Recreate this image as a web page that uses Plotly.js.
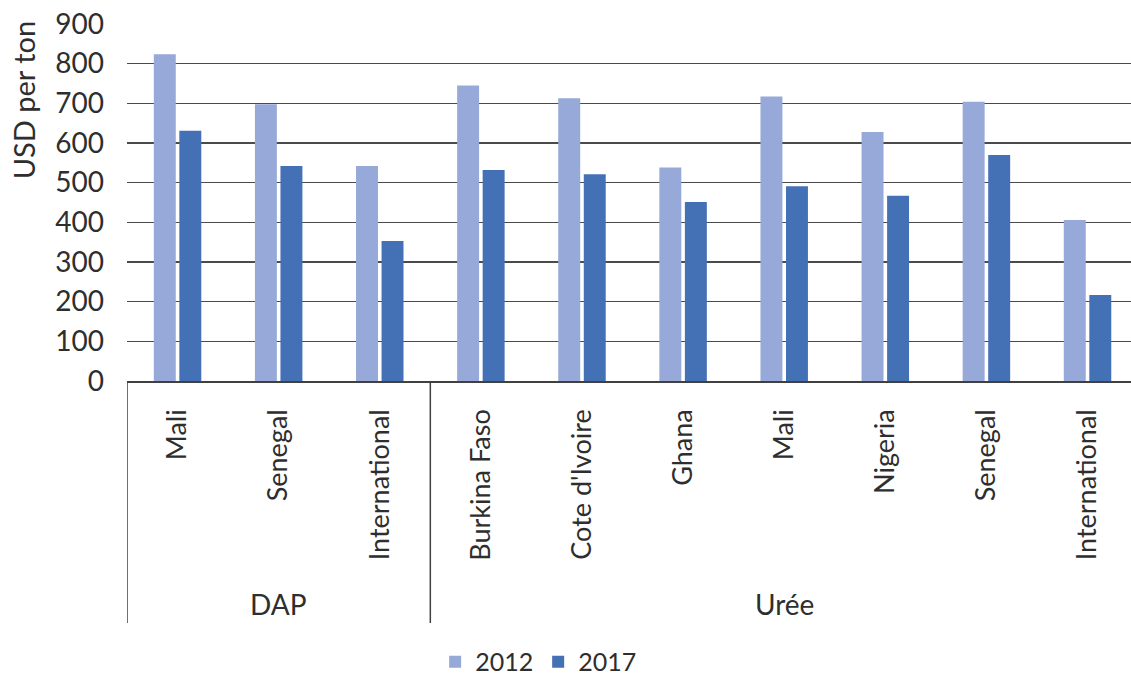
<!DOCTYPE html>
<html>
<head>
<meta charset="utf-8">
<script src="https://cdn.plot.ly/plotly-3.0.1.min.js"></script>
<style>
  html, body { margin: 0; padding: 0; background: #ffffff; overflow: hidden; }
  #chart { width: 1131px; height: 679px; }
</style>
</head>
<body>
<div id="chart"></div>
<script>
// Fertilizer prices by country, grouped by product
const products = ["DAP", "DAP", "DAP", "Urée", "Urée", "Urée", "Urée", "Urée", "Urée", "Urée"];
const countries = ["Mali", "Senegal", "International", "Burkina Faso", "Cote d'Ivoire", "Ghana", "Mali", "Nigeria", "Senegal", "International"];
const prices2012 = [824, 698, 542, 745, 713, 538, 717, 628, 704, 406];
const prices2017 = [631, 542, 353, 532, 521, 451, 491, 467, 570, 217];
const seriesNames = ["2012", "2017"];
const groupLabels = ["DAP", "Urée"];
const yTitle = "USD per ton";

const positions = countries.map((_, i) => i);
const FONT = "Lato, 'Open Sans', sans-serif";
const TEXT = "#2e2e2e";
const SIZE = 28;

// Group spans along the category axis
const groups = groupLabels.map(g => {
  const idx = products.map((p, i) => p === g ? i : -1).filter(i => i >= 0);
  return { label: g, start: idx[0], end: idx[idx.length - 1] };
});

const traces = [
  { type: "bar", name: seriesNames[0], x: positions, y: prices2012, marker: { color: "#97a9d8" } },
  { type: "bar", name: seriesNames[1], x: positions, y: prices2017, marker: { color: "#4470b6" } }
];

// Vertical separators below the axis at the start of each product group
const shapes = groups.map(g => ({
  type: "line", xref: "x", yref: "paper",
  x0: g.start - 0.5, x1: g.start - 0.5, y0: 0, y1: -0.678,
  line: { color: "#404040", width: 1.5 }
}));

const annotations = groups.map(g => ({
  xref: "x", yref: "paper",
  x: (g.start + g.end) / 2, y: -0.625,
  text: g.label, showarrow: false,
  xanchor: "center", yanchor: "middle",
  font: { family: FONT, size: SIZE, color: TEXT }
}));

// Axis title sits near the top of the value axis
annotations.push({
  xref: "paper", yref: "paper",
  x: -0.103, y: 0.785,
  text: yTitle, textangle: -90, showarrow: false,
  xanchor: "center", yanchor: "middle",
  font: { family: FONT, size: 29, color: TEXT }
});

const layout = {
  width: 1131, height: 679,
  margin: { l: 127, r: 0, t: 24, b: 298, pad: 0, autoexpand: false },
  paper_bgcolor: "#ffffff", plot_bgcolor: "#ffffff",
  barmode: "group", bargap: 0.495, bargroupgap: 0.14,
  font: { family: FONT, color: TEXT },
  xaxis: {
    range: [-0.5, 9.43], fixedrange: true,
    tickmode: "array", tickvals: positions, ticktext: countries,
    tickangle: -90, ticks: "", ticklabelstandoff: 16,
    tickfont: { family: FONT, size: 27, color: TEXT },
    showgrid: false, zeroline: false,
    showline: true, linecolor: "#404040", linewidth: 1.5
  },
  yaxis: {
    range: [0, 900], dtick: 100, fixedrange: true,
    ticks: "", ticklabelstandoff: 22,
    tickfont: { family: FONT, size: SIZE, color: TEXT },
    showgrid: true, gridcolor: "#4a4a4a", gridwidth: 1.2,
    zeroline: false, showline: false
  },
  showlegend: true,
  legend: {
    orientation: "h", xref: "paper", yref: "paper",
    x: 0.41, xanchor: "center", y: -0.787, yanchor: "middle",
    font: { family: FONT, size: 25, color: TEXT },
    itemclick: false, itemdoubleclick: false
  },
  shapes: shapes,
  annotations: annotations
};

Plotly.newPlot("chart", traces, layout, { displayModeBar: false, staticPlot: true });
</script>
</body>
</html>
